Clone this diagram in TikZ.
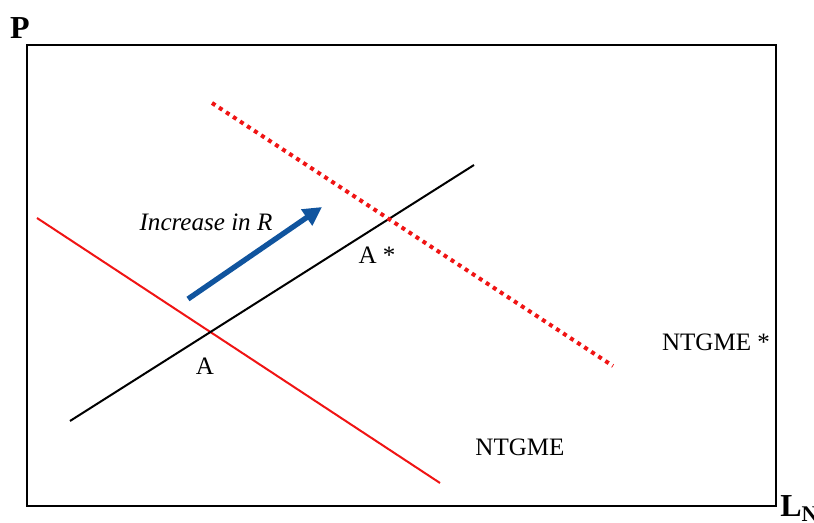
\documentclass[tikz,border=0pt]{standalone}
\usepackage{fontspec}
\setmainfont{Liberation Serif}
\usetikzlibrary{arrows.meta,positioning,calc}
\definecolor{shiftblue}{RGB}{16,84,158}
\definecolor{curvered}{RGB}{240,20,20}

\begin{document}
\begin{tikzpicture}[
    x=0.75pt, y=-0.75pt,
    axislabel/.style={font=\fontsize{24}{28}\selectfont\bfseries, inner sep=0pt},
    tag/.style={font=\fontsize{18.8}{22}\selectfont, inner sep=0pt},
    curve/.style={curvered, line width=1.5pt},
    shifted/.style={curvered, line width=3pt, dash pattern=on 3pt off 3.3pt},
    supply/.style={black, line width=1.5pt},
    shiftarrow/.style={shiftblue, line width=4pt, -{Triangle[length=14pt,width=14pt]}}
]
    \useasboundingbox (0,0) rectangle (814,523);

    % Frame and axis labels
    \draw[line width=1pt] (27,45) rectangle (776,506);
    \node[axislabel] (plabel) at (20,28) {P};
    \node[axislabel, anchor=base west] (llabel) at (780,517) {L\textsubscript{N}};

    % End points of the lines
    \coordinate (r1) at (37,218);
    \coordinate (r2) at (440,483);
    \coordinate (b1) at (70,421);
    \coordinate (b2) at (474,165);
    \coordinate (d1) at (212,103);
    \coordinate (d2) at (613,366);
    \coordinate (a1) at (188,299);
    \coordinate (a2) at (322,207);

    % Lines
    \draw[curve] (r1) -- (r2);
    \draw[supply] (b1) -- (b2);
    \draw[shifted] (d1) -- (d2);
    \draw[shiftarrow] (a1) -- (a2);

    % Labels
    \node[tag] (ptA) at (205,366) {A};
    \node[tag] (ptAstar) at (377,255) {A *};
    \node[tag, font=\fontsize{18.8}{22}\selectfont\itshape] (shiftlbl) at (206,222) {Increase in R};
    \node[tag] (ntgme) at (520,447) {NTGME};
    \node[tag] (ntgmestar) at (716,342) {NTGME *};
\end{tikzpicture}
\end{document}
